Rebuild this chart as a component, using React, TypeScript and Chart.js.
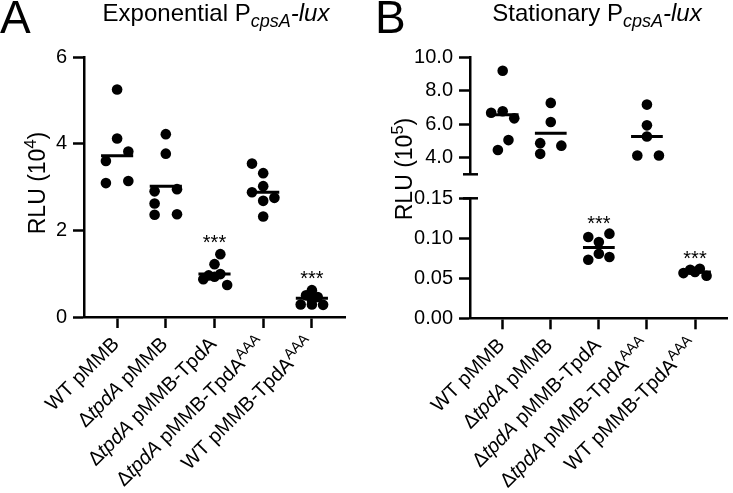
import { useEffect, useRef } from "react";
import { Chart, registerables } from "chart.js";
Chart.register(...registerables);

type Seg = { t: string; i?: boolean; sub?: boolean; sup?: boolean };

const FONT = "'Liberation Sans', Arial, Helvetica, sans-serif";

// ---- categories (x tick labels, rich text) ----
const categories: Seg[][] = [
  [{ t: "WT pMMB" }],
  [{ t: "\u0394" }, { t: "tpdA", i: true }, { t: " pMMB" }],
  [{ t: "\u0394" }, { t: "tpdA", i: true }, { t: " pMMB-TpdA" }],
  [{ t: "\u0394" }, { t: "tpdA", i: true }, { t: " pMMB-TpdA" }, { t: "AAA", sup: true }],
  [{ t: "WT pMMB-TpdA" }, { t: "AAA", sup: true }],
];

// ---- Panel A: Exponential, RLU (10^4) ----
const expWT = [5.25, 4.12, 3.82, 3.6, 3.09, 3.14];
const expWTJit = [0, 0, 0.23, -0.23, -0.23, 0.23];
const expDel = [4.22, 3.77, 2.95, 2.9, 2.62, 2.37, 2.36];
const expDelJit = [0, 0, 0.23, -0.23, -0.23, 0.23, -0.23];
const expComp = [1.45, 1.22, 0.99, 0.96, 0.93, 0.87, 0.74];
const expCompJit = [0.12, 0, 0.12, -0.12, 0, -0.23, 0.26];
const expAAA = [3.54, 3.32, 3.02, 2.88, 2.75, 2.68, 2.32];
const expAAAJit = [-0.23, 0, 0, -0.23, 0.23, 0, 0];
const expWTAAA = [0.62, 0.5, 0.46, 0.4, 0.29, 0.29, 0.28];
const expWTAAAJit = [0, -0.12, 0.12, 0, -0.23, 0, 0.23];
const expMeans = [3.72, 3.02, 0.99, 2.88, 0.43];
const expTicks = [0, 2, 4, 6];
const expStars = [
  { i: 2, y: 1.84 },
  { i: 4, y: 1.01 },
];

// ---- Panel B: Stationary, RLU (10^5) ----
const statWT = [9.18, 6.67, 6.76, 6.34, 5.04, 4.45];
const statWTJit = [0, -0.24, 0, 0.24, 0.12, -0.1];
const statDel = [7.26, 6.12, 4.86, 4.71, 4.22];
const statDelJit = [0, 0, -0.22, 0.22, -0.22];
const statComp = [0.1017, 0.1058, 0.0954, 0.0807, 0.0766, 0.0732];
const statCompJit = [-0.22, 0.22, 0, 0, 0.22, -0.22];
const statAAA = [7.16, 5.92, 5.26, 4.12, 4.12];
const statAAAJit = [0, 0, 0, -0.2, 0.25];
const statWTAAA = [0.0606, 0.0619, 0.0565, 0.0531, 0.058];
const statWTAAAJit = [-0.1, 0.1, -0.24, 0.24, 0];
const statMeans = [6.56, 5.45, 0.0886, 5.26, 0.058];
const statTopTicks = [4, 6, 8, 10];
const statBotTicks = [0, 0.05, 0.1, 0.15];
const statStars = [
  { i: 2, y: 0.125 },
  { i: 4, y: 0.081 },
];

const titleA: Seg[] = [{ t: "Exponential P" }, { t: "cpsA", i: true, sub: true }, { t: "-lux", i: true }];
const titleB: Seg[] = [{ t: "Stationary P" }, { t: "cpsA", i: true, sub: true }, { t: "-lux", i: true }];
const yTitleA: Seg[] = [{ t: "RLU (10" }, { t: "4", sup: true }, { t: ")" }];
const yTitleB: Seg[] = [{ t: "RLU (10" }, { t: "5", sup: true }, { t: ")" }];

function segFont(s: Seg, size: number) {
  const sz = s.sub ? size * 0.75 : s.sup ? size * 0.72 : size;
  return `${s.i ? "italic " : ""}${sz}px ${FONT}`;
}

function drawRich(
  ctx: CanvasRenderingContext2D,
  segs: Seg[],
  x: number,
  y: number,
  size: number,
  align: "left" | "right" | "center",
  rot: number
) {
  ctx.save();
  ctx.translate(x, y);
  ctx.rotate(rot);
  ctx.textBaseline = "alphabetic";
  ctx.textAlign = "left";
  ctx.fillStyle = "#000";
  const widths = segs.map((s) => {
    ctx.font = segFont(s, size);
    return ctx.measureText(s.t).width;
  });
  const total = widths.reduce((a, b) => a + b, 0);
  let cx = align === "right" ? -total : align === "center" ? -total / 2 : 0;
  segs.forEach((s, k) => {
    ctx.font = segFont(s, size);
    const dy = s.sub ? size * 0.27 : s.sup ? -size * 0.38 : 0;
    ctx.fillText(s.t, cx, dy);
    cx += widths[k];
  });
  ctx.restore();
}

function pts(vals: number[], jit: number[], idx: number) {
  return vals.map((v, k) => ({ x: idx + jit[k], y: v }));
}

function dotSet(vals: number[], jit: number[], idx: number) {
  return {
    type: "scatter" as const,
    data: pts(vals, jit, idx),
    pointRadius: 5.3,
    pointHoverRadius: 5.3,
    pointBackgroundColor: "#000",
    pointBorderWidth: 0,
    showLine: false,
  };
}

function meanSet(m: number, idx: number) {
  return {
    type: "scatter" as const,
    data: [
      { x: idx - 0.33, y: m },
      { x: idx + 0.33, y: m },
    ],
    showLine: true,
    borderColor: "#000",
    borderWidth: 3,
    pointRadius: 0,
  };
}

const X_MIN = -0.68;
const X_MAX = 4.68;

function xScale(show: boolean, height: number) {
  return {
    type: "linear" as const,
    display: show,
    min: X_MIN,
    max: X_MAX,
    afterBuildTicks: (s: any) => {
      s.ticks = categories.map((_, i) => ({ value: i }));
    },
    afterFit: (s: any) => {
      s.height = height;
    },
    border: { display: true, color: "#000", width: 2.5 },
    grid: {
      display: true,
      drawOnChartArea: false,
      drawTicks: true,
      tickLength: 11,
      tickWidth: 2.5,
      tickColor: "#000",
      color: "#000",
    },
    ticks: { display: false },
  };
}

function yScale(min: number, max: number, ticks: number[], digits: number, width: number) {
  return {
    type: "linear" as const,
    min,
    max,
    afterBuildTicks: (s: any) => {
      s.ticks = ticks.map((v) => ({ value: v }));
    },
    afterFit: (s: any) => {
      s.width = width;
    },
    border: { display: true, color: "#000", width: 2.5 },
    grid: {
      display: true,
      drawOnChartArea: false,
      drawTicks: true,
      tickLength: 11,
      tickWidth: 2.5,
      tickColor: "#000",
      color: "#000",
    },
    ticks: {
      color: "#000",
      padding: 6,
      font: { family: FONT, size: 20 },
      callback: (v: any) => Number(v).toFixed(digits),
    },
  };
}

function drawXLabels(chart: any) {
  const ctx = chart.ctx as CanvasRenderingContext2D;
  const xs = chart.scales.x;
  const bottom = chart.chartArea.bottom;
  categories.forEach((segs, i) => {
    const px = xs.getPixelForValue(i);
    drawRich(ctx, segs, px + 3, bottom + 28, 20, "right", -Math.PI / 4);
  });
}

function drawStars(chart: any, stars: { i: number; y: number }[]) {
  const ctx = chart.ctx as CanvasRenderingContext2D;
  ctx.save();
  ctx.fillStyle = "#000";
  ctx.font = `20px ${FONT}`;
  ctx.textAlign = "center";
  ctx.textBaseline = "alphabetic";
  stars.forEach((s) => {
    const px = chart.scales.x.getPixelForValue(s.i);
    const py = chart.scales.y.getPixelForValue(s.y);
    ctx.fillText("***", px, py + 11.4);
  });
  ctx.restore();
}

function drawCap(chart: any, value: number) {
  const ctx = chart.ctx as CanvasRenderingContext2D;
  const ax = chart.chartArea.left;
  const py = chart.scales.y.getPixelForValue(value);
  ctx.save();
  ctx.strokeStyle = "#000";
  ctx.lineWidth = 2.5;
  ctx.beginPath();
  ctx.moveTo(ax - 7, py);
  ctx.lineTo(ax + 8, py);
  ctx.stroke();
  ctx.restore();
}

function drawLetter(ctx: CanvasRenderingContext2D, t: string, x: number, y: number) {
  ctx.save();
  ctx.fillStyle = "#000";
  ctx.font = `46px ${FONT}`;
  ctx.textAlign = "left";
  ctx.textBaseline = "alphabetic";
  ctx.fillText(t, x, y);
  ctx.restore();
}

const W = 733;
const H = 493;
const SPLIT = 366;

function baseOptions(padding: any, scales: any) {
  return {
    responsive: false,
    animation: false as const,
    layout: { padding },
    plugins: { legend: { display: false }, tooltip: { enabled: false }, title: { display: false } },
    scales,
    events: [] as any[],
  };
}

export default function App() {
  const aRef = useRef<HTMLCanvasElement>(null);
  const bTopRef = useRef<HTMLCanvasElement>(null);
  const bBotRef = useRef<HTMLCanvasElement>(null);

  useEffect(() => {
    const charts: Chart[] = [];

    // Panel A
    charts.push(
      new Chart(aRef.current!, {
        type: "scatter",
        data: {
          datasets: [
            dotSet(expWT, expWTJit, 0),
            dotSet(expDel, expDelJit, 1),
            dotSet(expComp, expCompJit, 2),
            dotSet(expAAA, expAAAJit, 3),
            dotSet(expWTAAA, expWTAAAJit, 4),
            ...expMeans.map((m, i) => meanSet(m, i)),
          ] as any,
        },
        options: baseOptions(
          { top: 57, right: 21, bottom: 0, left: 0 },
          { x: xScale(true, 176), y: yScale(0, 6, expTicks, 0, 84) }
        ) as any,
        plugins: [
          {
            id: "decoA",
            afterDraw(chart: any) {
              const ctx = chart.ctx as CanvasRenderingContext2D;
              drawXLabels(chart);
              drawStars(chart, expStars);
              drawRich(ctx, titleA, 216, 21, 24, "center", 0);
              drawLetter(ctx, "A", 0, 33);
              drawRich(ctx, yTitleA, 45, 183, 23, "center", -Math.PI / 2);
            },
          },
        ],
      })
    );

    // Panel B top segment (3 - 10)
    const topIdx = [0, 1, 3];
    charts.push(
      new Chart(bTopRef.current!, {
        type: "scatter",
        data: {
          datasets: [
            dotSet(statWT, statWTJit, 0),
            dotSet(statDel, statDelJit, 1),
            dotSet(statAAA, statAAAJit, 3),
            ...topIdx.map((i) => meanSet(statMeans[i], i)),
          ] as any,
        },
        options: baseOptions(
          { top: 57, right: 0, bottom: H - 174.3, left: 0 },
          { x: xScale(false, 0), y: yScale(3, 10, statTopTicks, 1, 104) }
        ) as any,
        plugins: [
          {
            id: "decoBTop",
            afterDraw(chart: any) {
              const ctx = chart.ctx as CanvasRenderingContext2D;
              drawCap(chart, 3);
              drawRich(ctx, titleB, 597 - SPLIT, 21, 24, "center", 0);
              drawLetter(ctx, "B", 375 - SPLIT, 33);
              drawRich(ctx, yTitleB, 412 - SPLIT, 169, 23, "center", -Math.PI / 2);
            },
          },
        ],
      })
    );

    // Panel B bottom segment (0 - 0.15)
    const botIdx = [2, 4];
    charts.push(
      new Chart(bBotRef.current!, {
        type: "scatter",
        data: {
          datasets: [
            dotSet(statComp, statCompJit, 2),
            dotSet(statWTAAA, statWTAAAJit, 4),
            ...botIdx.map((i) => meanSet(statMeans[i], i)),
          ] as any,
        },
        options: baseOptions(
          { top: 198.3, right: 0, bottom: 0, left: 0 },
          { x: xScale(true, H - 318.3), y: yScale(0, 0.15, statBotTicks, 2, 104) }
        ) as any,
        plugins: [
          {
            id: "decoBBot",
            afterDraw(chart: any) {
              drawCap(chart, 0.15);
              drawXLabels(chart);
              drawStars(chart, statStars);
            },
          },
        ],
      })
    );

    return () => charts.forEach((c) => c.destroy());
  }, []);

  const cs = (left: number, width: number): React.CSSProperties => ({
    position: "absolute",
    left,
    top: 0,
    width,
    height: H,
  });

  return (
    <div style={{ position: "absolute", left: 0, top: 0, width: W, height: H, background: "#fff", overflow: "hidden" }}>
      <canvas ref={aRef} width={SPLIT} height={H} style={cs(0, SPLIT)} />
      <canvas ref={bTopRef} width={W - SPLIT} height={H} style={cs(SPLIT, W - SPLIT)} />
      <canvas ref={bBotRef} width={W - SPLIT} height={H} style={cs(SPLIT, W - SPLIT)} />
    </div>
  );
}
